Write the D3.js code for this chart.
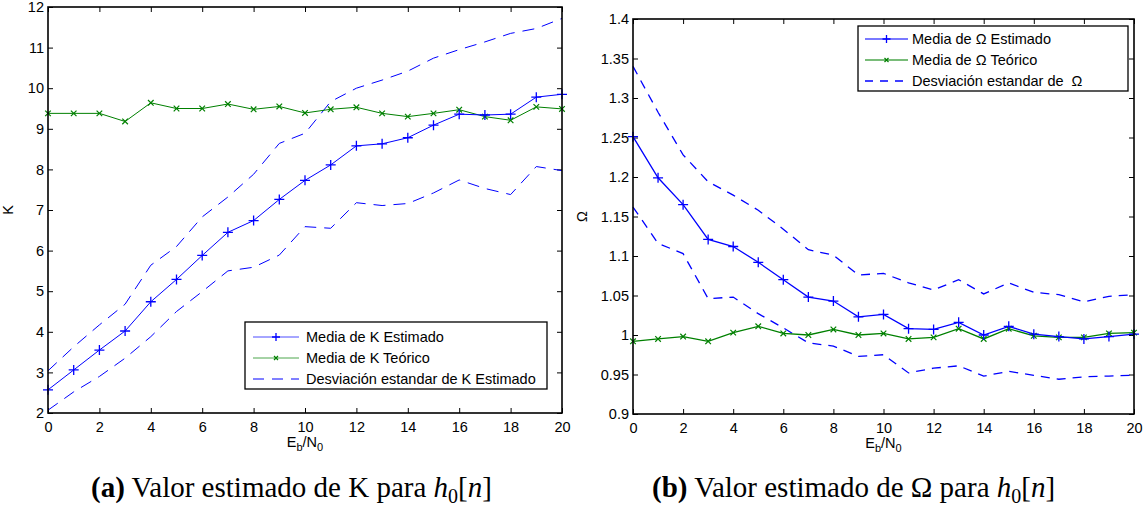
<!DOCTYPE html>
<html>
<head>
<meta charset="utf-8">
<script src="https://cdn.jsdelivr.net/npm/d3@7"></script>
<style>
  body { margin: 0; background: #fff; }
  svg { display: block; }
  .tick text { font-family: "Liberation Sans", Arial, sans-serif; font-size: 14.5px; fill: #000; }
  .tick line { stroke: #000; stroke-width: 1; }
  .lbl { font-family: "Liberation Sans", Arial, sans-serif; font-size: 14.5px; white-space: pre; }
  .cap { font-family: "Liberation Serif", "Times New Roman", serif; font-size: 29px; }
</style>
</head>
<body>
<svg id="canvas" width="1146" height="508"></svg>
<script>
// E_b/N_0 values (shared x)
const ebno = d3.range(0, 21);

// panel (a): K
const kEstimado = [2.57, 3.06, 3.55, 4.02, 4.74, 5.29, 5.88, 6.45, 6.74, 7.26, 7.73,
  8.11, 8.58, 8.63, 8.78, 9.09, 9.36, 9.34, 9.36, 9.78, 9.85];
const kTeorico = [9.38, 9.38, 9.38, 9.18, 9.64, 9.50, 9.50, 9.61, 9.48, 9.55, 9.39,
  9.48, 9.53, 9.38, 9.30, 9.38, 9.47, 9.30, 9.21, 9.54, 9.49];
const kStdUp = [3.04, 3.63, 4.17, 4.68, 5.64, 6.10, 6.83, 7.32, 7.88, 8.64, 8.89,
  9.67, 10.00, 10.20, 10.42, 10.74, 10.95, 11.14, 11.35, 11.47, 11.72];
const kStdDown = [2.07, 2.52, 2.90, 3.35, 3.88, 4.50, 4.99, 5.50, 5.59, 5.89, 6.59,
  6.55, 7.18, 7.11, 7.16, 7.42, 7.74, 7.53, 7.38, 8.07, 7.97];
const kTicks = d3.range(2, 13, 1);

// panel (b): Omega
const wEstimado = [1.251, 1.199, 1.165, 1.121, 1.112, 1.092, 1.070, 1.048, 1.043, 1.023, 1.026,
  1.008, 1.007, 1.016, 1.000, 1.011, 1.001, 0.998, 0.995, 0.998, 1.001];
const wTeorico = [0.992, 0.995, 0.998, 0.992, 1.003, 1.011, 1.002, 1.000, 1.007, 1.000, 1.002,
  0.995, 0.997, 1.008, 0.995, 1.008, 0.999, 0.997, 0.997, 1.002, 1.003];
const wStdUp = [1.340, 1.282, 1.228, 1.194, 1.177, 1.158, 1.134, 1.108, 1.101, 1.076, 1.078,
  1.066, 1.057, 1.070, 1.052, 1.066, 1.054, 1.051, 1.042, 1.049, 1.051];
const wStdDown = [1.162, 1.116, 1.103, 1.046, 1.048, 1.027, 1.009, 0.990, 0.986, 0.973, 0.975,
  0.952, 0.958, 0.961, 0.948, 0.954, 0.949, 0.944, 0.947, 0.948, 0.949];
const wTicks = [0.9, 0.95, 1, 1.05, 1.1, 1.15, 1.2, 1.25, 1.3, 1.35, 1.4];

const xTicks = d3.range(0, 21, 2);
const BLUE = "#0000ff", GREEN = "#008000";

const svg = d3.select("#canvas");

function drawPanel(opt) {
  const g = svg.append("g");
  const x = d3.scaleLinear().domain([0, 20]).range([opt.left, opt.right]);
  const y = d3.scaleLinear().domain(opt.yDomain).range([opt.bottom, opt.top]);

  // ticks on all four sides, pointing inwards
  g.append("g").attr("transform", `translate(0,${opt.bottom})`)
    .call(d3.axisBottom(x).tickValues(xTicks).tickSize(-5).tickPadding(9).tickSizeOuter(0))
    .call(a => a.select(".domain").remove());
  g.append("g").attr("transform", `translate(0,${opt.top})`)
    .call(d3.axisTop(x).tickValues(xTicks).tickSize(-5).tickSizeOuter(0).tickFormat(""))
    .call(a => a.select(".domain").remove());
  g.append("g").attr("transform", `translate(${opt.left},0)`)
    .call(d3.axisLeft(y).tickValues(opt.yTicks).tickSize(-5).tickPadding(4).tickSizeOuter(0).tickFormat(opt.fmt))
    .call(a => a.select(".domain").remove());
  g.append("g").attr("transform", `translate(${opt.right},0)`)
    .call(d3.axisRight(y).tickValues(opt.yTicks).tickSize(-5).tickSizeOuter(0).tickFormat(""))
    .call(a => a.select(".domain").remove());

  const line = d3.line().x((d, i) => x(ebno[i])).y(d => y(d));

  // dashed std curves
  [opt.up, opt.down].forEach(s => {
    g.append("path").attr("d", line(s)).attr("fill", "none")
      .attr("stroke", BLUE).attr("stroke-width", opt.lw)
      .attr("stroke-dasharray", opt.dash);
  });
  g.append("path").attr("d", line(opt.teo)).attr("fill", "none")
    .attr("stroke", GREEN).attr("stroke-width", opt.lw);
  g.append("path").attr("d", line(opt.est)).attr("fill", "none")
    .attr("stroke", BLUE).attr("stroke-width", opt.lw);

  // markers
  const cross = (sel, color, s) => sel.append("path")
    .attr("d", `M${-s},${-s}L${s},${s}M${-s},${s}L${s},${-s}`)
    .attr("stroke", color).attr("stroke-width", 1.2);
  const plus = (sel, color, s) => sel.append("path")
    .attr("d", `M${-s},0L${s},0M0,${-s}L0,${s}`)
    .attr("stroke", color).attr("stroke-width", 1.3);

  opt.teo.forEach((v, i) => cross(g.append("g").attr("transform", `translate(${x(ebno[i])},${y(v)})`), GREEN, 2.8));
  opt.est.forEach((v, i) => plus(g.append("g").attr("transform", `translate(${x(ebno[i])},${y(v)})`), BLUE, 5));

  // frame
  g.append("rect").attr("x", opt.left).attr("y", opt.top)
    .attr("width", opt.right - opt.left).attr("height", opt.bottom - opt.top)
    .attr("fill", "none").attr("stroke", "#000").attr("stroke-width", 1.6);

  // x label E_b/N_0
  const xl = g.append("text").attr("class", "lbl").attr("text-anchor", "middle")
    .attr("font-size", 15.5)
    .attr("x", (opt.left + opt.right) / 2).attr("y", opt.bottom + 34);
  xl.append("tspan").text("E");
  xl.append("tspan").attr("font-size", 11).attr("dy", 4).text("b");
  xl.append("tspan").attr("dy", -4).text("/N");
  xl.append("tspan").attr("font-size", 11).attr("dy", 4).text("0");

  // y label
  g.append("text").attr("class", "lbl").attr("text-anchor", "middle")
    .attr("transform", `translate(${opt.ylx},${(opt.top + opt.bottom) / 2}) rotate(-90)`)
    .text(opt.ylabel);

  // legend
  const L = opt.legend;
  const lg = g.append("g");
  lg.append("rect").attr("x", L.x).attr("y", L.y).attr("width", L.w).attr("height", L.h)
    .attr("fill", "#fff").attr("stroke", "#000").attr("stroke-width", 1.3);
  const items = [
    { t: opt.names[0], c: BLUE, m: "plus" },
    { t: opt.names[1], c: GREEN, m: "cross" },
    { t: opt.names[2], c: BLUE, m: "dash" }
  ];
  items.forEach((it, k) => {
    const yy = L.y + L.dy0 + k * L.step;
    const ln = lg.append("line").attr("x1", L.lx1).attr("x2", L.lx2).attr("y1", yy).attr("y2", yy)
      .attr("stroke", it.c).attr("stroke-width", opt.lw).attr("stroke-opacity", it.m === "dash" ? 1 : 0.7);
    if (it.m === "dash") ln.attr("stroke-dasharray", L.dash);
    const mg = lg.append("g").attr("transform", `translate(${(L.lx1 + L.lx2) / 2},${yy})`);
    if (it.m === "plus") plus(mg, it.c, 4);
    if (it.m === "cross") cross(mg, it.c, 2);
    lg.append("text").attr("class", "lbl").attr("x", L.tx).attr("y", yy + 5).text(it.t);
  });
}

drawPanel({
  left: 48, right: 562, top: 7, bottom: 413,
  yDomain: [2, 12], yTicks: kTicks, fmt: d3.format("d"),
  est: kEstimado, teo: kTeorico, up: kStdUp, down: kStdDown,
  lw: 1, dash: "12,8", ylabel: "K", ylx: 13,
  names: ["Media de K Estimado", "Media de K Teórico", "Desviación estandar de K Estimado"],
  legend: { x: 245, y: 322, w: 302, h: 67, dy0: 15, step: 21, lx1: 253, lx2: 299, tx: 306, dash: "11,8" }
});

drawPanel({
  left: 633, right: 1134, top: 19, bottom: 414,
  yDomain: [0.9, 1.4], yTicks: wTicks, fmt: d => d3.format("")(+d.toFixed(2)),
  est: wEstimado, teo: wTeorico, up: wStdUp, down: wStdDown,
  lw: 1.3, dash: "9,7", ylabel: "Ω", ylx: 587,
  names: ["Media de Ω Estimado", "Media de Ω Teórico", "Desviación estandar de  Ω"],
  legend: { x: 858, y: 26, w: 270, h: 65, dy0: 13, step: 21, lx1: 865, lx2: 908, tx: 912, dash: "8,7" }
});

// captions
function caption(x0, letter, sym) {
  const t = svg.append("text").attr("class", "cap").attr("x", x0).attr("y", 497);
  t.append("tspan").attr("font-weight", "bold").text(`(${letter})`);
  t.append("tspan").text(` Valor estimado de ${sym} para `);
  t.append("tspan").attr("font-style", "italic").text("h");
  t.append("tspan").attr("font-size", 20).attr("dy", 6).text("0");
  t.append("tspan").attr("dy", -6).text("[");
  t.append("tspan").attr("font-style", "italic").text("n");
  t.append("tspan").text("]");
}
caption(91, "a", "K");
caption(652, "b", "Ω");
</script>
</body>
</html>
